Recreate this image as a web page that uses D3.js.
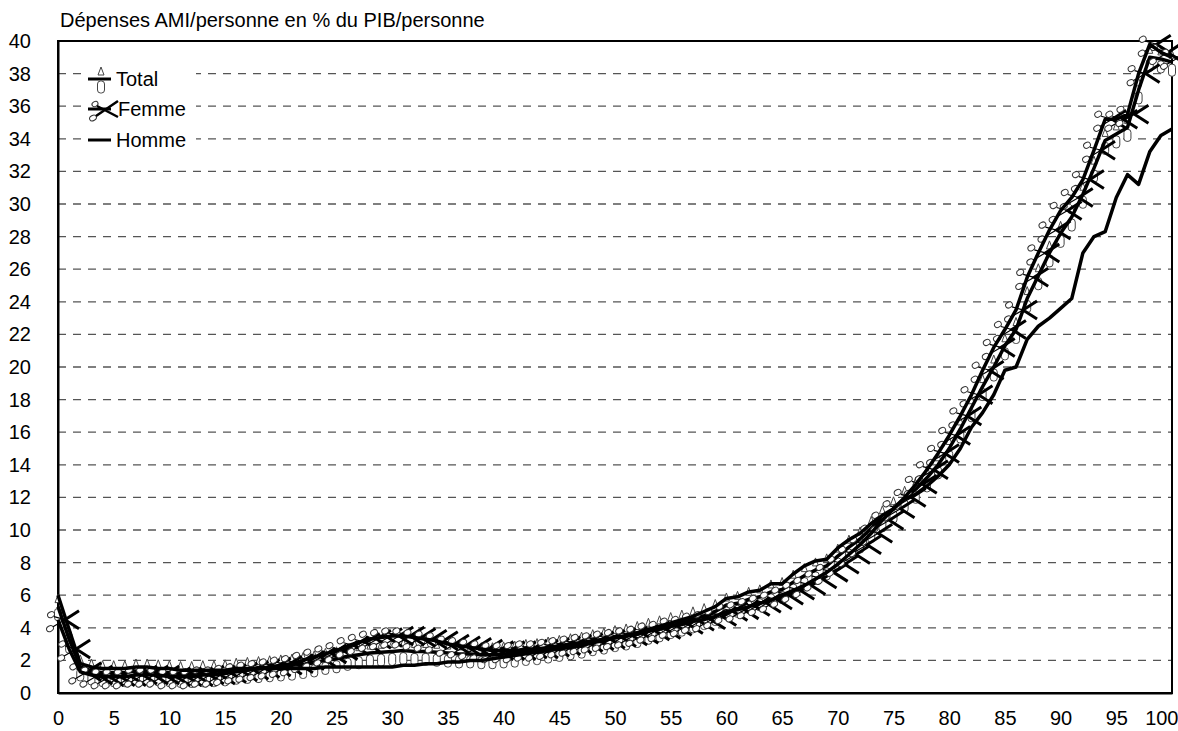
<!DOCTYPE html>
<html>
<head>
<meta charset="utf-8">
<script src="https://cdn.jsdelivr.net/npm/d3@7"></script>
<style>
  body { margin: 0; background: #fff; }
  svg { font-family: "Liberation Sans", Arial, sans-serif; }
</style>
</head>
<body>
<svg id="chart"></svg>
<script>
const title = "Dépenses AMI/personne en % du PIB/personne";
const ages = d3.range(0, 101);
const yTicks = [0, 2, 4, 6, 8, 10, 12, 14, 16, 18, 20, 22, 24, 26, 28, 30, 32, 34, 36, 38, 40];
const xTicks = [0, 5, 10, 15, 20, 25, 30, 35, 40, 45, 50, 55, 60, 65, 70, 75, 80, 85, 90, 95, 100];

// values, age 0..100
const total = [5.3, 3.3, 1.6, 1.35, 1.25, 1.25, 1.25, 1.35, 1.35, 1.3,
  1.25, 1.2, 1.2, 1.25, 1.25, 1.3, 1.4, 1.45, 1.5, 1.55,
  1.6, 1.65, 1.75, 1.85, 2.0, 2.1, 2.25, 2.35, 2.45, 2.5,
  2.55, 2.6, 2.55, 2.55, 2.5, 2.45, 2.4, 2.4, 2.35, 2.35,
  2.4, 2.45, 2.55, 2.6, 2.7, 2.8, 2.9, 3.0, 3.15, 3.25,
  3.4, 3.5, 3.65, 3.85, 4.0, 4.2, 4.35, 4.55, 4.75, 5.0,
  5.4, 5.5, 5.75, 5.9, 6.2, 6.35, 6.8, 7.2, 7.55, 7.8,
  8.4, 8.95, 9.45, 10.1, 10.75, 11.3, 11.95, 12.5, 13.2, 14.0,
  15.0, 16.2, 17.5, 18.8, 20.0, 21.3, 22.3, 24.2, 25.6, 27.0,
  28.2, 29.2, 30.6, 32.2, 33.9, 34.3, 34.7, 37.0, 39.0, 38.9,
  38.7];
const femme = [4.5, 2.7, 1.3, 1.1, 1.0, 1.0, 1.0, 1.1, 1.1, 1.1,
  1.0, 1.0, 1.0, 1.1, 1.1, 1.2, 1.3, 1.4, 1.5, 1.6,
  1.7, 1.8, 2.0, 2.2, 2.4, 2.6, 2.9, 3.1, 3.3, 3.4,
  3.5, 3.5, 3.4, 3.3, 3.2, 3.0, 2.9, 2.8, 2.7, 2.6,
  2.6, 2.6, 2.7, 2.7, 2.8, 2.9, 3.0, 3.1, 3.2, 3.3,
  3.4, 3.5, 3.6, 3.8, 3.9, 4.1, 4.2, 4.4, 4.5, 4.7,
  5.0, 5.1, 5.3, 5.5, 5.7, 6.0, 6.3, 6.6, 7.0, 7.4,
  7.9, 8.5, 9.1, 9.8, 10.6, 11.3, 12.0, 12.8, 13.7, 14.7,
  15.8, 17.0, 18.3, 19.8, 21.2, 22.3, 23.5, 25.5, 27.0, 28.4,
  29.6, 30.4, 31.5, 33.3, 35.2, 35.2, 35.5, 38.0, 39.8, 39.3,
  39.0];
const homme = [6.0, 3.9, 1.8, 1.6, 1.5, 1.5, 1.5, 1.6, 1.6, 1.5,
  1.5, 1.4, 1.4, 1.4, 1.4, 1.4, 1.5, 1.5, 1.5, 1.5,
  1.5, 1.5, 1.5, 1.5, 1.6, 1.6, 1.6, 1.6, 1.6, 1.6,
  1.6, 1.7, 1.7, 1.8, 1.8, 1.9, 1.9, 2.0, 2.0, 2.1,
  2.2, 2.3, 2.4, 2.5, 2.6, 2.7, 2.8, 2.9, 3.1, 3.2,
  3.4, 3.5, 3.7, 3.9, 4.1, 4.3, 4.5, 4.7, 5.0, 5.3,
  5.8, 5.9, 6.2, 6.3, 6.7, 6.7, 7.3, 7.8, 8.1, 8.2,
  8.9, 9.4, 9.8, 10.4, 10.9, 11.3, 11.9, 12.2, 12.7, 13.3,
  14.0, 15.0, 16.3, 17.2, 18.3, 19.8, 20.0, 21.7, 22.5, 23.0,
  23.6, 24.2, 27.0, 28.0, 28.3, 30.4, 31.8, 31.2, 33.2, 34.2,
  34.6];

const width = 1178, height = 731;
const margin = { top: 41, right: 6, bottom: 38, left: 58 };
const fontSize = 20;

const svg = d3.select("#chart").attr("width", width).attr("height", height);

const x = d3.scaleLinear().domain([0, 100]).range([margin.left, width - margin.right]);
const y = d3.scaleLinear().domain([0, 40]).range([height - margin.bottom, margin.top]);

// dashed grid
svg.append("g")
  .selectAll("line")
  .data(yTicks.filter(d => d > 0 && d < 40))
  .join("line")
  .attr("x1", x(0)).attr("x2", x(100))
  .attr("y1", d => y(d)).attr("y2", d => y(d))
  .attr("stroke", "#555").attr("stroke-width", 1.3)
  .attr("stroke-dasharray", "8,7");

// frame
svg.append("rect")
  .attr("x", x(0)).attr("y", y(40))
  .attr("width", x(100) - x(0)).attr("height", y(0) - y(40))
  .attr("fill", "none").attr("stroke", "#000").attr("stroke-width", 2);

const yAxis = svg.append("g")
  .attr("transform", `translate(${x(0)},0)`)
  .call(d3.axisLeft(y).tickValues(yTicks).tickSize(0).tickPadding(27));
const xAxis = svg.append("g")
  .attr("transform", `translate(0,${y(0)})`)
  .call(d3.axisBottom(x).tickValues(xTicks).tickSize(0).tickPadding(18));
[yAxis, xAxis].forEach(a => {
  a.select(".domain").attr("stroke", "#000").attr("stroke-width", 2);
  a.selectAll("text").attr("font-size", fontSize).attr("fill", "#000")
    .attr("font-family", "Liberation Sans, Arial, sans-serif");
});
// last x label sits flush with the right edge
xAxis.selectAll(".tick text").filter(d => d === 100)
  .attr("text-anchor", "end").attr("x", width - x(100));

svg.append("text")
  .attr("x", 60).attr("y", 27)
  .attr("font-size", fontSize)
  .text(title);

const line = d3.line().x((d, i) => x(ages[i])).y(d => y(d));

// marker drawers
function totalMarker(g) {
  g.append("path")
    .attr("d", "M0,-12 L-3,-4 L3,-4 Z")
    .attr("fill", "#fff").attr("stroke", "#444").attr("stroke-width", 1);
  g.append("rect")
    .attr("x", -3.5).attr("y", 2).attr("width", 7).attr("height", 12).attr("rx", 3)
    .attr("fill", "#fff").attr("stroke", "#444").attr("stroke-width", 1);
}
function femmeMarker(g) {
  g.append("ellipse").attr("cx", -7).attr("cy", -5).attr("rx", 3.6).attr("ry", 2.8)
    .attr("transform", "rotate(-30,-7,-5)")
    .attr("fill", "#fff").attr("stroke", "#333").attr("stroke-width", 1);
  g.append("ellipse").attr("cx", -8).attr("cy", 9).attr("rx", 3.6).attr("ry", 2.8)
    .attr("transform", "rotate(-30,-8,9)")
    .attr("fill", "#fff").attr("stroke", "#333").attr("stroke-width", 1);
  g.append("path").attr("d", "M-4,-3 L7,0 M-5,7 L7,0")
    .attr("fill", "none").attr("stroke", "#000").attr("stroke-width", 1.2);
  g.append("path").attr("d", "M21,-9 L7,0 L21,9")
    .attr("fill", "none").attr("stroke", "#000").attr("stroke-width", 3);
}

const series = [
  { name: "Total", values: total, marker: totalMarker },
  { name: "Femme", values: femme, marker: femmeMarker },
  { name: "Homme", values: homme, marker: null }
];

series.forEach(s => {
  const g = svg.append("g");
  if (s.marker) {
    g.selectAll("g.m")
      .data(s.values)
      .join("g")
      .attr("class", "m")
      .attr("transform", (d, i) => `translate(${x(ages[i])},${y(d)})`)
      .each(function () { s.marker(d3.select(this)); });
  }
  g.append("path")
    .datum(s.values)
    .attr("d", line)
    .attr("fill", "none")
    .attr("stroke", "#000")
    .attr("stroke-width", 3.5)
    .attr("stroke-linejoin", "round");
});

// legend
const legend = svg.append("g");
legend.append("rect")
  .attr("x", 84).attr("y", 63).attr("width", 112).attr("height", 90)
  .attr("fill", "#fff");
const rows = [79, 109, 140];
series.forEach((s, i) => {
  const r = legend.append("g").attr("transform", `translate(101,${rows[i]})`);
  r.append("line").attr("x1", -13).attr("x2", 10)
    .attr("stroke", "#000").attr("stroke-width", 3);
  if (s.marker === totalMarker) s.marker(r);
  if (s.marker === femmeMarker) {
    r.append("ellipse").attr("cx", -6).attr("cy", -5).attr("rx", 3.2).attr("ry", 2.4)
      .attr("transform", "rotate(-30,-6,-5)")
      .attr("fill", "#fff").attr("stroke", "#333").attr("stroke-width", 1);
    r.append("ellipse").attr("cx", -8).attr("cy", 9).attr("rx", 3.6).attr("ry", 2.6)
      .attr("transform", "rotate(-30,-8,9)")
      .attr("fill", "#fff").attr("stroke", "#333").attr("stroke-width", 1);
    r.append("path").attr("d", "M-4,-3 L17,8 M-5,7 L17,-8")
      .attr("fill", "none").attr("stroke", "#000").attr("stroke-width", 2.5);
  }
  r.append("text")
    .attr("x", s.name === "Femme" ? 17 : 15).attr("y", 7)
    .attr("font-size", fontSize)
    .text(s.name);
});
</script>
</body>
</html>
